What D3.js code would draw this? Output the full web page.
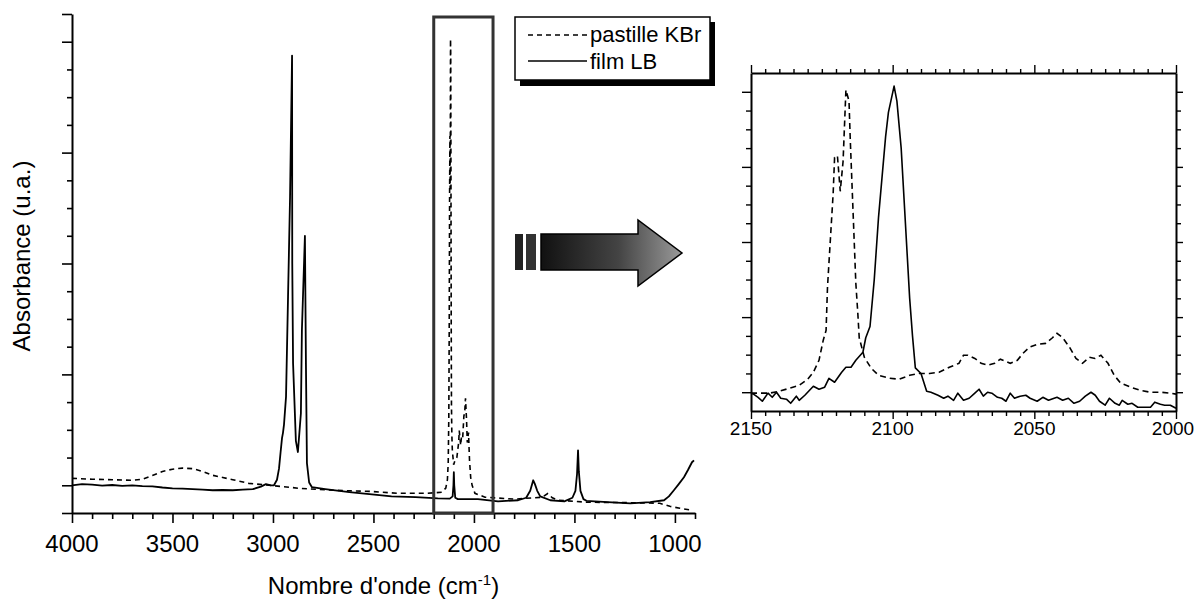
<!DOCTYPE html>
<html><head><meta charset="utf-8">
<script src="https://cdn.jsdelivr.net/npm/d3@7"></script>
<style>html,body{margin:0;padding:0;background:#fff;}svg{display:block;font-family:"Liberation Sans",Arial,sans-serif;}</style>
</head><body><svg id="c" width="1196" height="599"></svg>
<script>
// ---------- data ----------
const seriesNames = ["pastille KBr", "film LB"];
const mainTickLabels = [4000, 3500, 3000, 2500, 2000, 1500, 1000];
const zoomTickLabels = [2150, 2100, 2050, 2000];
const axisTitleX = "Nombre d'onde (cm";
const axisTitleY = "Absorbance (u.a.)";
const zoomRange = [2200, 1905];

// main spectrum, KBr pellet (dashed)  [wavenumber, absorbance]
const mainKBr = [[4000,0.025],[3900,0.022],[3800,0.02],[3700,0.018],[3650,0.022],[3600,0.035],[3550,0.05],[3500,0.058],[3450,0.062],[3400,0.06],[3350,0.05],[3300,0.036],[3250,0.028],[3200,0.02],[3120,0.007],[3020,0.0],[2920,-0.007],[2870,-0.011],[2700,-0.018],[2520,-0.022],[2375,-0.029],[2230,-0.029],[2160,-0.025],[2140,-0.01],[2132,0.02],[2128,0.08],[2125,0.25],[2123,0.56],[2121,1.06],[2119.5,1.26],[2118.5,1.07],[2117.5,1.23],[2116.5,1.61],[2115.4,1.55],[2114,0.97],[2113,0.58],[2111.8,0.29],[2110,0.186],[2107.6,0.128],[2101,0.074],[2094,0.09],[2085,0.1],[2076,0.154],[2073,0.197],[2066,0.144],[2062,0.176],[2056,0.17],[2050,0.25],[2046,0.26],[2042,0.314],[2037,0.24],[2033,0.154],[2027,0.19],[2022,0.09],[2016,0.027],[2009,0.0],[1995,-0.029],[1945,-0.043],[1800,-0.05],[1660,-0.043],[1633,-0.03],[1610,-0.045],[1583,-0.054],[1436,-0.061],[1200,-0.063],[1075,-0.065],[1025,-0.076],[975,-0.083],[915,-0.09]];

// main spectrum, LB film (solid)
const mainLB = [[4000,0.0],[3950,0.004],[3900,0.002],[3850,-0.001],[3800,0.001],[3750,-0.002],[3700,0.0],[3650,-0.003],[3600,-0.004],[3550,-0.008],[3500,-0.011],[3450,-0.012],[3400,-0.014],[3350,-0.016],[3300,-0.018],[3250,-0.017],[3200,-0.018],[3150,-0.016],[3100,-0.014],[3060,-0.005],[3035,0.004],[3010,0.0],[2995,0.0],[2980,0.02],[2970,0.06],[2962,0.12],[2955,0.17],[2950,0.19],[2945,0.22],[2935,0.32],[2925,0.68],[2915,1.04],[2905,1.55],[2904,0.8],[2900,0.44],[2886,0.16],[2876,0.12],[2861,0.26],[2856,0.56],[2841,0.9],[2836,0.44],[2831,0.08],[2820,0.01],[2806,-0.007],[2740,-0.014],[2620,-0.025],[2520,-0.032],[2410,-0.04],[2290,-0.043],[2180,-0.047],[2120,-0.048],[2106,-0.04],[2102,0.0],[2100,0.047],[2098,0.0],[2093,-0.045],[2080,-0.05],[1980,-0.05],[1880,-0.058],[1780,-0.054],[1740,-0.045],[1720,-0.02],[1705,0.018],[1697,0.005],[1685,-0.02],[1670,-0.04],[1620,-0.054],[1550,-0.058],[1510,-0.045],[1495,-0.02],[1487,0.04],[1482,0.126],[1478,0.05],[1470,-0.02],[1455,-0.05],[1440,-0.056],[1335,-0.061],[1222,-0.065],[1123,-0.061],[1054,-0.054],[1030,-0.04],[1005,-0.018],[980,0.005],[955,0.029],[935,0.055],[915,0.083],[905,0.09]];

// zoomed spectrum 2150-2000, KBr pellet (dashed)
const zoomKBr = [[2150,-0.005],[2143.5,-0.005],[2140,0.005],[2136.5,0.021],[2133,0.037],[2130,0.069],[2128,0.106],[2126,0.17],[2124.5,0.277],[2123.5,0.33],[2123,0.56],[2121,1.06],[2120.5,1.25],[2119.5,1.26],[2118.5,1.07],[2117.5,1.23],[2116.5,1.61],[2115.4,1.55],[2115,1.36],[2114,0.97],[2113,0.58],[2112.3,0.42],[2111.8,0.29],[2110,0.186],[2107.6,0.128],[2105,0.09],[2101,0.074],[2097.7,0.069],[2094,0.09],[2090.7,0.1],[2087,0.1],[2083.6,0.106],[2080,0.133],[2076.6,0.154],[2075,0.197],[2073.5,0.197],[2071,0.18],[2068.8,0.154],[2066.5,0.144],[2064,0.154],[2062,0.176],[2058.5,0.154],[2056,0.17],[2054,0.207],[2051.7,0.24],[2049,0.255],[2046,0.26],[2043.6,0.29],[2042,0.314],[2040,0.29],[2037.6,0.24],[2035.3,0.18],[2033,0.154],[2030.6,0.186],[2028.6,0.18],[2026.5,0.197],[2024,0.154],[2021.8,0.09],[2019.5,0.048],[2016,0.027],[2012.6,0.01],[2009,0],[2005.5,0],[2002,-0.005],[2000,-0.01]];

// zoomed spectrum 2150-2000, LB film (solid)
const zoomLB = [[2150,-0.005],[2149,-0.011],[2147.5,-0.027],[2146,-0.048],[2144,-0.005],[2142.5,-0.027],[2141,0],[2139.5,-0.032],[2137.5,-0.037],[2136,-0.059],[2134,-0.021],[2133,-0.043],[2131,-0.016],[2128,0.032],[2126,0.016],[2124,0.027],[2122.5,0.074],[2120.5,0.053],[2118,0.106],[2116.5,0.133],[2114.7,0.133],[2113,0.17],[2110.5,0.213],[2109.5,0.29],[2108,0.35],[2106.5,0.6],[2105,0.93],[2102.5,1.36],[2101.5,1.49],[2099.5,1.63],[2098.5,1.55],[2097,1.30],[2095.5,0.9],[2094,0.5],[2093,0.3],[2092,0.13],[2090,0.10],[2088,0.005],[2086.5,0],[2084,-0.016],[2082,-0.032],[2080.5,-0.021],[2078.5,-0.043],[2077,-0.005],[2075,-0.043],[2073,-0.032],[2071,-0.005],[2069.5,0.016],[2068,-0.021],[2066.5,0],[2065,-0.005],[2063,-0.027],[2061.5,-0.032],[2060,-0.048],[2058.5,-0.005],[2057,-0.032],[2055,-0.021],[2053,-0.016],[2051.5,-0.032],[2049,-0.048],[2047,-0.027],[2045,-0.043],[2042,-0.027],[2040,-0.043],[2038,-0.032],[2036,-0.059],[2034,-0.048],[2032,-0.021],[2030,0],[2028.5,-0.016],[2027,-0.048],[2025,-0.069],[2023.5,-0.032],[2021.5,-0.059],[2020,-0.069],[2019,-0.043],[2017,-0.064],[2015.5,-0.059],[2013.5,-0.08],[2011,-0.08],[2009,-0.08],[2007.5,-0.053],[2005.5,-0.064],[2004,-0.069],[2002,-0.069],[2000,-0.085]];

// ---------- drawing ----------
const svg = d3.select("#c");
const FONT = '"Liberation Sans", Arial, sans-serif';

// main chart scales
const xL = d3.scaleLinear().domain([4000, 900]).range([72, 695]);
const yL = d3.scaleLinear().domain([-0.1, 1.7]).range([513, 14]);
// zoom chart scales
const xR = d3.scaleLinear().domain([2150, 2000]).range([751, 1176]);
const yR = d3.scaleLinear().domain([-0.1, 1.7]).range([411, 73]);

const yTickVals = d3.range(-1, 18).map(i => +(i / 10).toFixed(1));
const isMajorY = v => Math.abs(v) < 1e-9 || [0.4, 0.8, 1.2, 1.6].some(m => Math.abs(v - m) < 1e-9);

// ---- main chart axes ----
const gL = svg.append("g");
const xAxisL = d3.axisBottom(xL).tickValues(d3.range(4000, 899, -100)).tickSize(0).tickFormat("");
const gx = gL.append("g").attr("transform", "translate(0,513)").call(xAxisL);
gx.select(".domain").attr("stroke", "#000").attr("stroke-width", 2);
gx.selectAll(".tick line").attr("stroke", "#000").attr("stroke-width", 1.6)
  .attr("y2", d => d % 500 === 0 ? 10 : 6);
gL.selectAll(".xlab").data(mainTickLabels).enter().append("text")
  .attr("x", d => xL(d)).attr("y", 552).attr("text-anchor", "middle")
  .attr("font-size", 24).attr("font-family", FONT).text(d => d);
const yAxisL = d3.axisLeft(yL).tickValues(yTickVals).tickSize(0).tickFormat("");
const gy = gL.append("g").attr("transform", "translate(72,0)").call(yAxisL);
gy.select(".domain").attr("stroke", "#000").attr("stroke-width", 2);
gy.selectAll(".tick line").attr("stroke", "#000").attr("stroke-width", 1.6)
  .attr("x2", d => (isMajorY(d) || d > 1.65 || d < -0.05) ? -10 : -5);

// axis titles
gL.append("text").attr("transform", "translate(30,256) rotate(-90)")
  .attr("text-anchor", "middle").attr("font-size", 24).attr("font-family", FONT).text(axisTitleY);
const tt = gL.append("text").attr("x", xL(2450)).attr("y", 594)
  .attr("text-anchor", "middle").attr("font-size", 24).attr("font-family", FONT);
tt.append("tspan").text(axisTitleX);
tt.append("tspan").attr("dy", -9).attr("font-size", 15).text("-1");
tt.append("tspan").attr("dy", 9).text(")");

// main lines
const lineL = d3.line().x(d => xL(d[0])).y(d => yL(d[1]));
gL.append("path").datum(mainKBr).attr("d", lineL).attr("fill", "none")
  .attr("stroke", "#000").attr("stroke-width", 1.6).attr("stroke-dasharray", "5,4");
gL.append("path").datum(mainLB).attr("d", lineL).attr("fill", "none")
  .attr("stroke", "#000").attr("stroke-width", 1.8).attr("stroke-linejoin", "round");

// zoom box on main chart
gL.append("rect").attr("x", xL(zoomRange[0])).attr("y", 17)
  .attr("width", xL(zoomRange[1]) - xL(zoomRange[0])).attr("height", 513 - 17)
  .attr("fill", "none").attr("stroke", "#333").attr("stroke-width", 3);

// legend
const lg = svg.append("g");
lg.append("rect").attr("x", 520).attr("y", 22).attr("width", 195).attr("height", 64).attr("fill", "#000");
lg.append("rect").attr("x", 515).attr("y", 17).attr("width", 195).attr("height", 63)
  .attr("fill", "#fff").attr("stroke", "#000").attr("stroke-width", 1.5);
const legRows = [{name: seriesNames[0], dash: "5,4", y: 35, ty: 42}, {name: seriesNames[1], dash: null, y: 61, ty: 69}];
legRows.forEach(r => {
  lg.append("line").attr("x1", 528).attr("x2", 587).attr("y1", r.y).attr("y2", r.y)
    .attr("stroke", "#000").attr("stroke-width", 1.5).attr("stroke-dasharray", r.dash);
  lg.append("text").attr("x", 590).attr("y", r.ty).attr("font-size", 22).attr("font-family", FONT).text(r.name);
});

// arrow
const defs = svg.append("defs");
const grad = defs.append("linearGradient").attr("id", "ag").attr("x1", "0%").attr("x2", "100%").attr("y1", "0%").attr("y2", "0%");
grad.append("stop").attr("offset", "0%").attr("stop-color", "#111");
grad.append("stop").attr("offset", "55%").attr("stop-color", "#444");
grad.append("stop").attr("offset", "100%").attr("stop-color", "#9a9a9a");
const ar = svg.append("g");
ar.append("rect").attr("x", 515).attr("y", 234).attr("width", 8).attr("height", 36).attr("fill", "#222");
ar.append("rect").attr("x", 526).attr("y", 234).attr("width", 10).attr("height", 36).attr("fill", "#333");
ar.append("path").attr("d", "M541,234 L638,234 L638,220 L682,253 L638,286 L638,270 L541,270 Z")
  .attr("fill", "url(#ag)").attr("stroke", "#000").attr("stroke-width", 1.5).attr("stroke-linejoin", "miter");

// ---- zoom chart ----
const gR = svg.append("g");
const xTicksR = d3.range(2150, 1999, -5);
const xMaj = d => d % 50 === 0;
const bAx = gR.append("g").attr("transform", "translate(0,411)")
  .call(d3.axisBottom(xR).tickValues(xTicksR).tickSize(0).tickFormat(""));
bAx.selectAll(".tick line").attr("y2", d => xMaj(d) ? 8 : 5);
const tAx = gR.append("g").attr("transform", "translate(0,73)")
  .call(d3.axisTop(xR).tickValues(xTicksR).tickSize(0).tickFormat(""));
tAx.selectAll(".tick line").attr("y2", d => xMaj(d) ? -8 : -4);
const lAx = gR.append("g").attr("transform", "translate(751,0)")
  .call(d3.axisLeft(yR).tickValues(yTickVals.filter(v => v >= 0 && v <= 1.6)).tickSize(0).tickFormat(""));
lAx.selectAll(".tick line").attr("x2", d => isMajorY(d) ? -9 : -5);
const rAx = gR.append("g").attr("transform", "translate(1176,0)")
  .call(d3.axisRight(yR).tickValues(yTickVals.filter(v => v >= 0 && v <= 1.6)).tickSize(0).tickFormat(""));
rAx.selectAll(".tick line").attr("x2", d => isMajorY(d) ? 7 : 5);
[bAx, tAx, lAx, rAx].forEach(a => {
  a.select(".domain").attr("stroke", "#000").attr("stroke-width", 2);
  a.selectAll(".tick line").attr("stroke", "#000").attr("stroke-width", 1.4);
});
gR.selectAll(".xlabR").data(zoomTickLabels).enter().append("text")
  .attr("x", d => Math.min(xR(d), 1173)).attr("y", 435).attr("text-anchor", "middle")
  .attr("font-size", 19).attr("font-family", FONT).text(d => d);

const lineR = d3.line().x(d => xR(d[0])).y(d => yR(d[1]));
gR.append("path").datum(zoomKBr).attr("d", lineR).attr("fill", "none")
  .attr("stroke", "#000").attr("stroke-width", 1.6).attr("stroke-dasharray", "6,4");
gR.append("path").datum(zoomLB).attr("d", lineR).attr("fill", "none")
  .attr("stroke", "#000").attr("stroke-width", 1.6).attr("stroke-linejoin", "round");
</script></body></html>
